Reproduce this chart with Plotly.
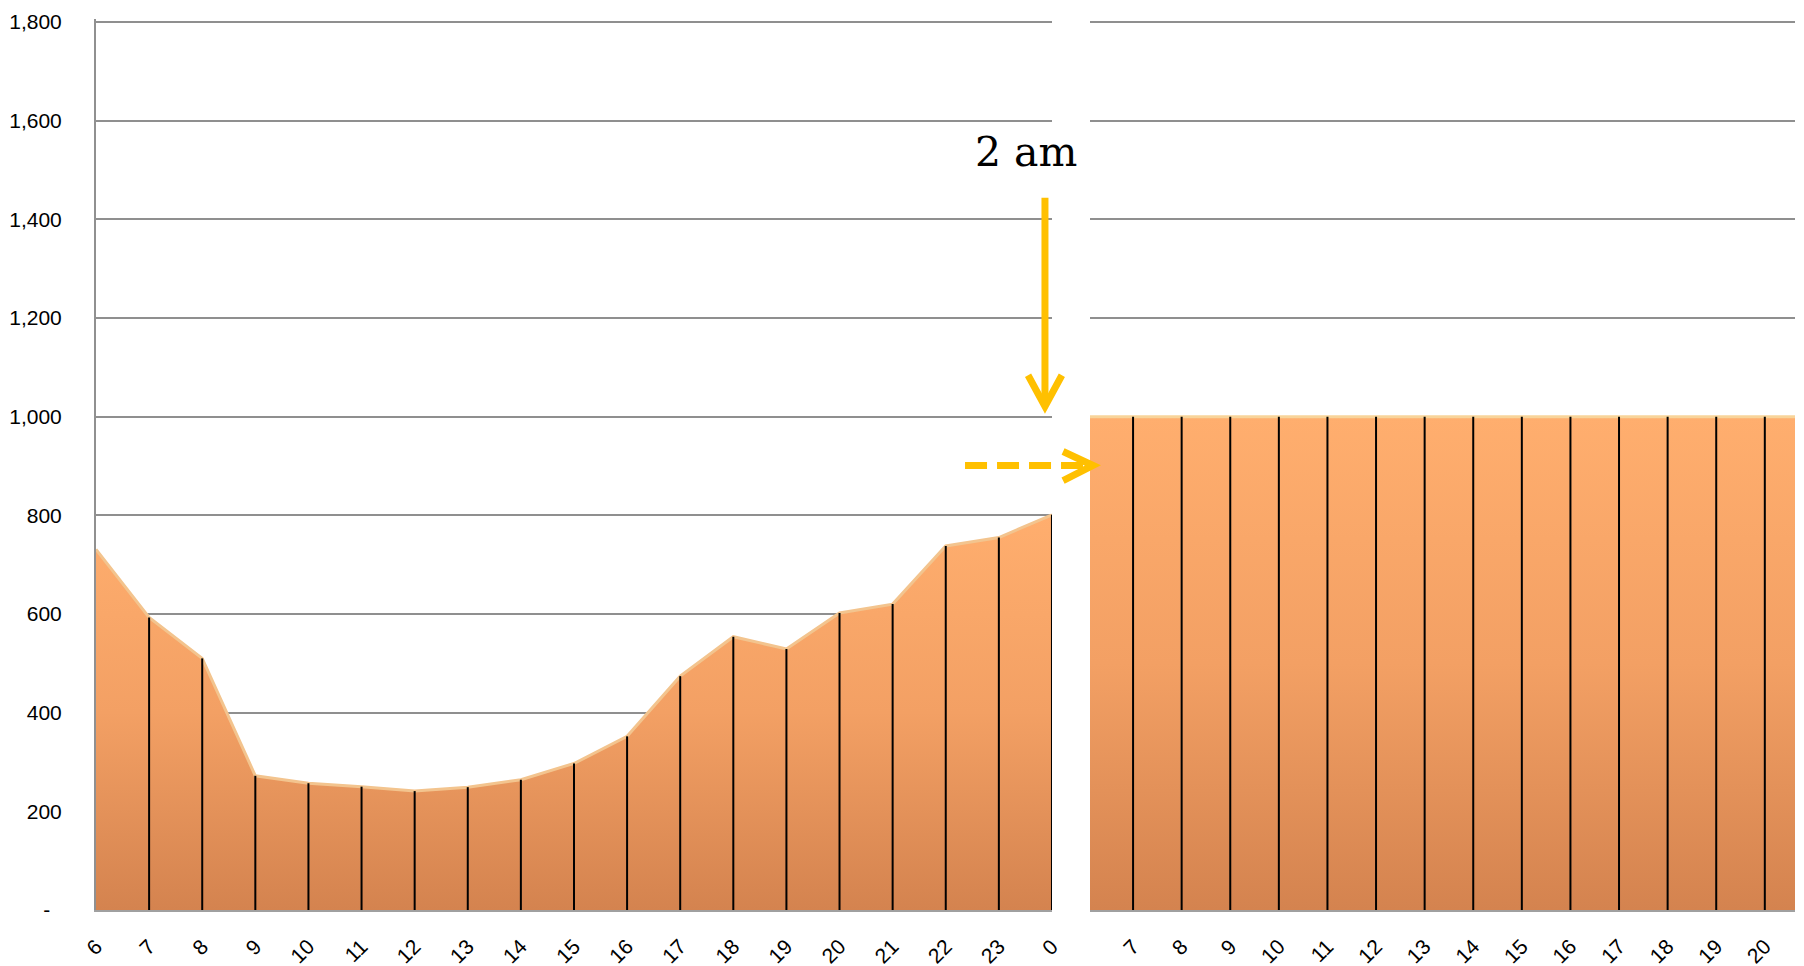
import plotly.graph_objects as go

# 左图: 每小时数值 (6 点到次日 0 点)
left_hours = ["6", "7", "8", "9", "10", "11", "12", "13", "14", "15",
              "16", "17", "18", "19", "20", "21", "22", "23", "0"]
left_values = [731, 593, 510, 272, 257, 250, 241, 249, 264, 297,
               352, 474, 554, 529, 602, 620, 738, 755, 801]

# 右图: 固定在 1,000
right_hours = ["6", "7", "8", "9", "10", "11", "12", "13", "14", "15",
               "16", "17", "18", "19", "20", "21"]
right_values = [1000, 1000, 1000, 1000, 1000, 1000, 1000, 1000,
                1000, 1000, 1000, 1000, 1000, 1000, 1000, 1000]

y_ticks = [0, 200, 400, 600, 800, 1000, 1200, 1400, 1600, 1800]
y_text = ["-\u00a0\u00a0", "200", "400", "600", "800", "1,000", "1,200", "1,400", "1,600", "1,800"]

ORANGE_SCALE = [[0, "#D4834F"], [0.5, "#F3A064"], [1, "#FFAE6E"]]
YELLOW = "#FFC000"
GRID = "#8f8f8f"


def drop_lines(cats, vals, skip_first=False):
    xs, ys = [], []
    for i, (c, v) in enumerate(zip(cats, vals)):
        if skip_first and i == 0:
            continue
        xs += [c, c, None]
        ys += [0, v, None]
    return xs, ys


fig = go.Figure()

# 左侧面积
fig.add_trace(go.Scatter(
    x=left_hours, y=left_values, mode="lines", fill="tozeroy",
    line=dict(color="#F3C48E", width=3),
    fillgradient=dict(type="vertical", colorscale=ORANGE_SCALE,
                      start=0, stop=max(left_values)),
    xaxis="x", yaxis="y", hoverinfo="skip",
))
lx, ly = drop_lines(left_hours, left_values, skip_first=True)
fig.add_trace(go.Scatter(x=lx, y=ly, mode="lines", line=dict(color="black", width=2),
                         xaxis="x", yaxis="y", hoverinfo="skip"))

# 右侧面积
fig.add_trace(go.Scatter(
    x=right_hours, y=right_values, mode="lines", fill="tozeroy",
    line=dict(color="#F8D49A", width=3),
    fillgradient=dict(type="vertical", colorscale=ORANGE_SCALE,
                      start=0, stop=max(right_values)),
    xaxis="x2", yaxis="y2", hoverinfo="skip",
))
rx, ry = drop_lines(right_hours, right_values)
fig.add_trace(go.Scatter(x=rx, y=ry, mode="lines", line=dict(color="black", width=2),
                         xaxis="x2", yaxis="y2", hoverinfo="skip"))

tick_font = dict(family="Liberation Sans, Arial", size=21, color="black")

# 页面 body 有 8px 边距, 图宽高相应减小
fig.update_layout(
    width=1796, height=958,
    margin=dict(l=88, r=0, t=11, b=56, autoexpand=False),
    paper_bgcolor="white", plot_bgcolor="white",
    showlegend=False,
    xaxis=dict(domain=[0, 0.5597], type="category", range=[0, 18],
               showgrid=False, tickangle=-45, tickfont=tick_font, automargin=False,
               ticks="outside", ticklen=14, tickcolor="rgba(0,0,0,0)",
               showline=True, linecolor="#a0a0a0", linewidth=2),
    xaxis2=dict(domain=[0.5820, 0.9947], type="category", range=[0.115, 14.62],
                showgrid=False, tickangle=-45, tickfont=tick_font, automargin=False,
                ticks="outside", ticklen=14, tickcolor="rgba(0,0,0,0)",
                showline=True, linecolor="#a0a0a0", linewidth=2, anchor="y2"),
    yaxis=dict(range=[0, 1806], tickvals=y_ticks, ticktext=y_text, automargin=False,
               tickfont=tick_font, showgrid=True, gridcolor=GRID, gridwidth=1.5,
               ticks="outside", ticklen=28, tickcolor="rgba(0,0,0,0)",
               showline=True, linecolor="#909090", linewidth=2, zeroline=False),
    yaxis2=dict(range=[0, 1806], tickvals=y_ticks, showticklabels=False, automargin=False,
                showgrid=True, gridcolor=GRID, gridwidth=1.5, zeroline=False,
                anchor="x2"),
)

# "2 am" 标注与箭头
fig.add_annotation(text="2 am", xref="paper", yref="paper", x=0.5445, y=0.8502,
                   xanchor="center", yanchor="middle", showarrow=False,
                   font=dict(family="DejaVu Serif", size=41, color="black"))

fig.add_shape(type="line", xref="paper", yref="paper",
              x0=0.5556, y0=0.7995, x1=0.5556, y1=0.57,
              line=dict(color=YELLOW, width=7))
fig.add_shape(type="path", xref="paper", yref="paper",
              path="M 0.5457 0.6002 L 0.5556 0.5653 L 0.5655 0.6002",
              line=dict(color=YELLOW, width=7))

fig.add_shape(type="line", xref="paper", yref="paper",
              x0=0.5088, y0=0.4989, x1=0.5800, y1=0.4989,
              line=dict(color=YELLOW, width=7, dash="22px,10px"))
fig.add_shape(type="path", xref="paper", yref="paper",
              path="M 0.5662 0.5146 L 0.5837 0.4989 L 0.5662 0.4820",
              line=dict(color=YELLOW, width=7))

fig.write_html("out.html")
